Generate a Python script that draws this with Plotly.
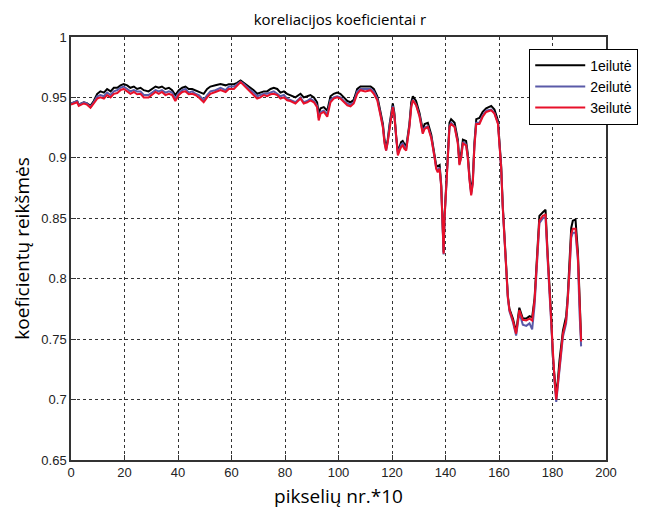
import plotly.graph_objects as go

# x positions (pikselių nr.*10)
x_vals = [0, 1, 2.3, 2.9, 4.8, 6, 7.3, 8.5, 9.8, 11, 12.3, 13.5, 14.8, 16, 17.3, 18.5, 19.7,
          21, 22.2, 23.5, 24.7, 26, 27.2, 29, 30.3, 31.6, 32.8, 34, 35.3, 36.6, 37.8, 39,
          40.3, 41.6, 42.8, 44, 45.3, 46.5, 47.8, 49.6, 50.9, 52.1, 54, 55.9, 57.8, 59,
          60.9, 62.1, 63.4, 64.6, 65.9, 67.1, 68.3, 69.6, 70.8, 72.1, 73.3, 74.6, 75.8,
          77.1, 78.3, 79.6, 80.8, 82, 83.9, 85.8, 87, 88.3, 89.5, 90.8, 92, 92.6, 93.3,
          94.5, 95.8, 97, 98.2, 99.5, 100.7, 102, 103.3, 104.5, 105.7, 107, 108.2, 110,
          112, 113.2, 114.5, 115.7, 116.6, 117.2, 117.8, 118.4, 119.1, 120.3, 120.9,
          121.6, 122.2, 122.8, 123.4, 124, 124.6, 125.3, 126.5, 127.2, 127.8, 129, 130.3,
          131.5, 132.2, 133.4, 134.7, 135.9, 136.5, 137.1, 137.8, 138.4, 139, 139.3,
          139.6, 140.3, 140.9, 141.5, 142.1, 143.4, 144.6, 145.2, 145.9, 146.5, 147.7,
          148.3, 149, 149.6, 150.2, 150.8, 151.5, 152.7, 153.9, 155.2, 157.1, 158.3,
          159.6, 160.8, 161.4, 162.1, 162.7, 163.3, 163.9, 165.2, 166.4, 167, 167.6,
          168.9, 170.2, 171.4, 172.4, 173.3, 173.9, 174.5, 175.1, 176.4, 177.4, 178.2,
          179.5, 180.1, 180.7, 181.4, 182, 182.6, 183.9, 185.1, 185.7, 186.4, 187, 187.6,
          188.6, 189.5, 190.1, 190.7]

eilute1 = [.945, .946, .947, .944, .946, .945, .943, .947, .953, .955, .954, .957, .955, .958,
           .958, .960, .961, .960, .958, .959, .957, .958, .956, .955, .957, .959, .958, .959,
           .957, .958, .956, .952, .956, .958, .959, .957, .957, .956, .955, .953, .957, .959,
           .960, .961, .960, .961, .961, .962, .964, .962, .960, .958, .956, .953, .954, .955,
           .955, .957, .958, .957, .954, .955, .953, .952, .950, .953, .950, .951, .952, .950,
           .946, .937, .941, .942, .939, .951, .953, .954, .953, .950, .947, .946, .948, .957,
           .959, .959, .959, .957, .951, .938, .928, .915, .908, .915, .928, .945, .937, .917,
           .905, .909, .913, .914, .911, .909, .928, .946, .951, .947, .937, .923, .928, .929,
           .919, .903, .894, .893, .894, .878, .839, .822, .850, .879, .907, .929, .932, .929,
           .915, .897, .904, .915, .914, .904, .884, .872, .882, .912, .932, .933, .938, .941,
           .943, .940, .931, .894, .861, .833, .802, .786, .775, .767, .756, .767, .776, .767,
           .767, .769, .768, .784, .808, .833, .852, .855, .857, .820, .770, .736, .720, .703,
           .716, .732, .757, .769, .786, .813, .842, .848, .849, .822, .779, .750]

eilute2 = [.945, .946, .947, .944, .946, .945, .942, .946, .951, .952, .951, .954, .952, .955,
           .956, .958, .959, .957, .955, .956, .955, .955, .952, .952, .954, .956, .955, .956,
           .954, .955, .954, .949, .954, .956, .957, .954, .955, .953, .952, .948, .952, .955,
           .956, .958, .956, .959, .959, .961, .963, .961, .958, .956, .954, .951, .952, .953,
           .953, .954, .955, .953, .951, .952, .949, .948, .946, .950, .946, .947, .949, .947,
           .943, .933, .938, .939, .936, .948, .950, .951, .950, .947, .945, .944, .946, .955,
           .957, .957, .957, .955, .949, .936, .926, .913, .906, .913, .926, .943, .935, .915,
           .903, .907, .911, .912, .909, .907, .926, .943, .948, .944, .935, .921, .925, .926,
           .917, .901, .892, .889, .892, .876, .837, .820, .848, .877, .904, .926, .929, .926,
           .913, .895, .901, .913, .911, .901, .882, .870, .879, .910, .929, .929, .935, .939,
           .940, .937, .929, .892, .859, .831, .800, .784, .773, .764, .753, .764, .772, .762,
           .761, .763, .758, .778, .803, .829, .846, .850, .851, .815, .765, .732, .716, .698,
           .710, .727, .752, .763, .780, .807, .834, .838, .838, .815, .772, .744]

eilute3 = [.944, .945, .946, .943, .945, .944, .9415, .945, .949, .950, .949, .952, .950, .953,
           .9537, .956, .957, .955, .953, .9545, .9526, .953, .950, .950, .952, .9545, .953,
           .9545, .952, .953, .952, .947, .952, .9545, .955, .9526, .953, .952, .950, .946,
           .950, .953, .9545, .956, .9545, .957, .957, .960, .9627, .960, .957, .9545, .952,
           .949, .950, .952, .951, .9526, .953, .952, .949, .950, .9476, .947, .945, .949,
           .945, .946, .9476, .946, .942, .931, .9366, .938, .934, .946, .949, .950, .949,
           .946, .9435, .9426, .945, .953, .956, .955, .956, .953, .9476, .935, .925, .912,
           .906, .913, .9255, .942, .934, .9145, .902, .906, .909, .9104, .9076, .906, .9255,
           .942, .9476, .9435, .934, .920, .924, .9255, .916, .9007, .891, .888, .891, .876,
           .837, .8207, .848, .876, .9035, .9255, .928, .9255, .912, .894, .9007, .912, .9104,
           .9007, .881, .869, .8787, .909, .928, .928, .934, .938, .9393, .9366, .928, .892,
           .859, .8317, .801, .785, .774, .7655, .7545, .7655, .774, .766, .7655, .767, .7655,
           .782, .807, .8317, .848, .852, .853, .818, .768, .735, .7186, .700, .713, .7296,
           .7545, .7655, .782, .8096, .837, .8414, .8414, .818, .7765, .748]

series_names = ["1eilutė", "2eilutė", "3eilutė"]
series_colors = ["#000000", "#5a5aa8", "#e8102a"]

x_ticks = [0, 20, 40, 60, 80, 100, 120, 140, 160, 180, 200]
y_ticks = [0.65, 0.7, 0.75, 0.8, 0.85, 0.9, 0.95, 1]
y_tick_text = ["0.65", "0.7", "0.75", "0.8", "0.85", "0.9", "0.95", "1"]

fig = go.Figure()
for name, ys, col in zip(series_names, [eilute1, eilute2, eilute3], series_colors):
    fig.add_trace(go.Scatter(x=x_vals, y=ys, mode="lines", name=name,
                             line=dict(color=col, width=2)))

axis_common = dict(showline=True, linecolor="#333333", linewidth=1.5, mirror=True,
                   showgrid=True, gridcolor="#333333", gridwidth=1, griddash="3px,3px",
                   ticks="inside", ticklen=5, tickcolor="#333333", zeroline=False,
                   automargin=False,
                   tickfont=dict(family="Liberation Sans, Arial", size=13, color="#222222"))

fig.update_layout(
    width=652, height=519,
    paper_bgcolor="white", plot_bgcolor="white",
    margin=dict(l=63, r=54, t=29, b=67, autoexpand=False),
    title=dict(text="koreliacijos koeficientai r", x=0.509, xanchor="center",
               xref="container", y=1, yanchor="top", yref="container",
               pad=dict(t=6, b=0, l=0, r=0), automargin=False,
               font=dict(family="Open Sans, Noto Sans", size=15, color="#000000")),
    xaxis=dict(range=[0, 200], tickvals=x_ticks,
               title=dict(text="pikselių nr.*10", standoff=10,
                          font=dict(family="Open Sans, Noto Sans", size=19, color="#000000")),
               **axis_common),
    yaxis=dict(range=[0.65, 1], tickvals=y_ticks, ticktext=y_tick_text,
               title=dict(text="koeficientų reikšmės", standoff=7,
                          font=dict(family="Open Sans, Noto Sans", size=19, color="#000000")),
               **axis_common),
    legend=dict(x=0.8565, y=0.9726, xanchor="left", yanchor="top",
                bgcolor="white", bordercolor="#000000", borderwidth=1,
                font=dict(family="Liberation Sans, Arial", size=14, color="#000000"),
                itemwidth=50, tracegroupgap=0),
    showlegend=True,
)

fig.write_html("out.html")
